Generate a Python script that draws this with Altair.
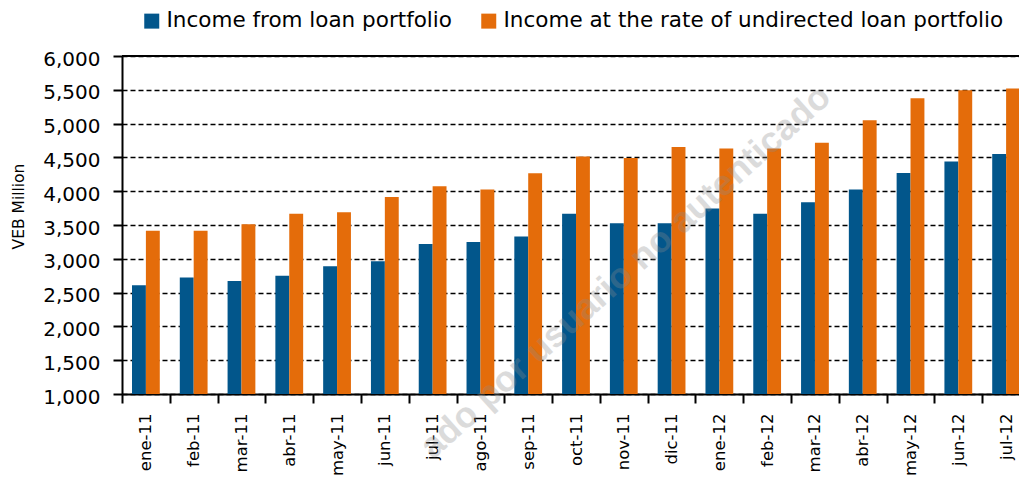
import altair as alt
import pandas as pd

months = ["ene-11", "feb-11", "mar-11", "abr-11", "may-11", "jun-11", "jul-11",
          "ago-11", "sep-11", "oct-11", "nov-11", "dic-11", "ene-12", "feb-12",
          "mar-12", "abr-12", "may-12", "jun-12", "jul-12"]
loan_income = [2610, 2725, 2670, 2750, 2890, 2965, 3220, 3250, 3330, 3665,
               3525, 3525, 3745, 3665, 3835, 4025, 4270, 4440, 4550]
undirected_income = [3415, 3415, 3510, 3665, 3690, 3915, 4075, 4025, 4265, 4515,
                     4490, 4655, 4630, 4630, 4715, 5050, 5375, 5495, 5520]
series_names = ["Income from loan portfolio",
                "Income at the rate of undirected loan portfolio"]
series_colors = ["#02568B", "#E46C0A"]
y_ticks = [1000, 1500, 2000, 2500, 3000, 3500, 4000, 4500, 5000, 5500, 6000]
y_title = "VEB Million"
watermark = "ado por usuario no autenticado"

rows = []
for m, a, b in zip(months, loan_income, undirected_income):
    rows.append({"month": m, "series": series_names[0], "value": a})
    rows.append({"month": m, "series": series_names[1], "value": b})
df = pd.DataFrame(rows)

FONT = "DejaVu Sans"

x_axis = alt.Axis(
    title=None, labelAngle=-90, tickBand="extent", labelFont=FONT,
    labelFontSize=16.5, labelColor="#000", labelPadding=10, tickSize=9,
    tickWidth=2, tickColor="#000", domainColor="#000", domainWidth=2,
    grid=False,
)
y_axis = alt.Axis(
    values=y_ticks, format=",d", title=y_title, labelFont=FONT,
    labelFontSize=20, labelColor="#000", labelPadding=13, labelOffset=3,
    tickSize=9, tickWidth=2, tickColor="#000", domainColor="#000",
    domainWidth=2, grid=True, gridColor="#000", gridDash=[5, 3],
    gridWidth=1.3, titleFont=FONT, titleFontSize=15.5,
    titleFontWeight="normal", titleColor="#000", titleX=-99, titleY=150,
    titleBaseline="alphabetic", labelOverlap=False,
)

x_scale = alt.Scale(domain=months, range=[0, 908], paddingInner=0, paddingOuter=0)
y_scale = alt.Scale(domain=[1000, 6000], nice=False, zero=False)

bars = alt.Chart(df).mark_bar().encode(
    x=alt.X("month:N", sort=months, scale=x_scale, axis=x_axis),
    xOffset=alt.XOffset("series:N", sort=series_names,
                        scale=alt.Scale(paddingInner=0, paddingOuter=0.72)),
    y=alt.Y("value:Q", scale=y_scale, axis=y_axis),
    y2=alt.datum(1000),
    color=alt.Color(
        "series:N", sort=series_names,
        scale=alt.Scale(domain=series_names, range=series_colors),
        legend=alt.Legend(
            title=None, orient="none", legendX=19, legendY=-46,
            direction="horizontal", symbolType="square", symbolSize=225,
            symbolStrokeWidth=0, labelFont=FONT, labelFontSize=21.5,
            labelColor="#000", labelLimit=0, columnPadding=26,
            labelOffset=4, padding=0,
        ),
    ),
)

top_rule = alt.Chart(pd.DataFrame({"top": [y_ticks[-1]]})).mark_rule(
    color="#000", strokeWidth=2
).encode(y=alt.YDatum(y_ticks[-1], scale=y_scale, axis=y_axis, title=y_title))

wm = alt.Chart(pd.DataFrame({"t": [watermark], "m": ["mar-12"]})).mark_text(
    font="Liberation Sans", fontSize=36, fontWeight="bold", angle=318,
    align="right", baseline="alphabetic", color="#8c8c8c", opacity=0.3,
    dx=24,
).encode(
    x=alt.X("m:N", sort=months, scale=x_scale, axis=x_axis),
    y=alt.YDatum(5110, scale=y_scale, axis=y_axis, title=y_title),
    text="t:N",
)

chart = alt.layer(bars, top_rule, wm).properties(
    width=897, height=338,
    autosize=alt.AutoSizeParams(type="none"),
    padding={"left": 114, "top": 48, "right": 0, "bottom": 84},
).configure_view(strokeWidth=0).configure(background="white")

chart.save("out.html", embed_options={"renderer": "svg", "actions": False})
